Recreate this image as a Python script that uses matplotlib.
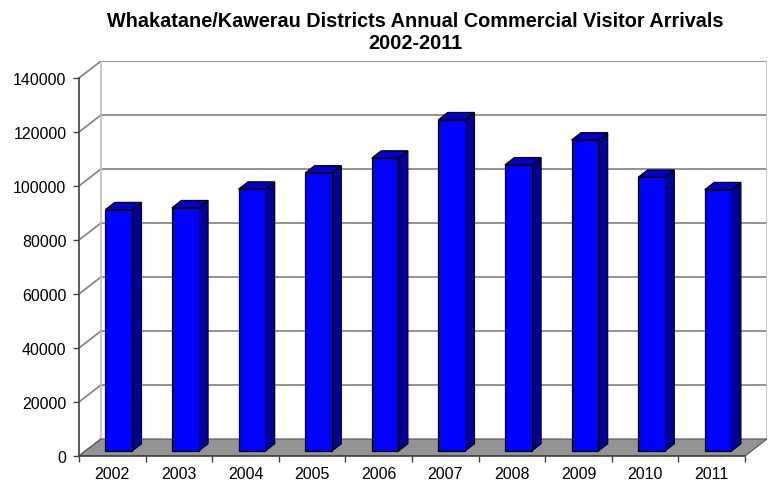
import matplotlib.pyplot as plt
from matplotlib.patches import Polygon

years = ['2002', '2003', '2004', '2005', '2006', '2007', '2008', '2009', '2010', '2011']
arrivals = [89400, 90100, 97000, 103000, 108500, 122700, 106000, 115200, 101400, 96800]
y_ticks = [0, 20000, 40000, 60000, 80000, 100000, 120000, 140000]

plt.rcParams['font.family'] = ['Liberation Sans', 'DejaVu Sans']

# fake 3d: depth z in 0..1 shifts a point right by DX categories and up by DY
DX = 0.33
DY = 6300
YMAX = 140000
N = len(years)


def proj(x, y, z):
    return (x + z * DX, y + z * DY)


fig = plt.figure(figsize=(7.74, 4.81), dpi=100)
ax = fig.add_axes([79 / 774, 24 / 481, 688 / 774, 395 / 481])
ax.set_xlim(0, N + DX)
ax.set_ylim(0, YMAX + DY)

grid_col = '#808080'
edge_col = '#c0c0c0'

# side wall and back wall gridlines
for t in y_ticks:
    (x0, y0), (x1, y1) = proj(0, t, 0), proj(0, t, 1)
    ax.plot([x0, x1], [y0, y1], color=grid_col, lw=1.2, zorder=1)
    if t > 0:
        ax.plot([x1, N + DX], [y1, y1], color=grid_col, lw=1.2, zorder=1)
ax.plot([DX, DX], [DY, YMAX + DY], color=edge_col, lw=1.2, zorder=1)
ax.plot([N + DX, N + DX], [DY, YMAX + DY], color=edge_col, lw=1.2, zorder=1)

# floor
floor = [proj(0, 0, 0), proj(N, 0, 0), proj(N, 0, 1), proj(0, 0, 1)]
ax.add_patch(Polygon(floor, closed=True, facecolor='#939393',
                     edgecolor='#555555', lw=0.8, zorder=2))

# bars
w = 0.4
z0, z1 = 0.29, 0.72
for i, v in enumerate(arrivals):
    xl = i + 0.3
    xr = xl + w
    front = [proj(xl, 0, z0), proj(xr, 0, z0), proj(xr, v, z0), proj(xl, v, z0)]
    top = [proj(xl, v, z0), proj(xr, v, z0), proj(xr, v, z1), proj(xl, v, z1)]
    side = [proj(xr, 0, z0), proj(xr, 0, z1), proj(xr, v, z1), proj(xr, v, z0)]
    ax.add_patch(Polygon(side, closed=True, facecolor='#000099',
                         edgecolor='black', lw=0.9, zorder=3))
    ax.add_patch(Polygon(top, closed=True, facecolor='#0000cc',
                         edgecolor='black', lw=0.9, zorder=3))
    ax.add_patch(Polygon(front, closed=True, facecolor='#0000ff',
                         edgecolor='black', lw=0.9, zorder=4))

for s in ['top', 'right']:
    ax.spines[s].set_visible(False)
ax.spines['left'].set_bounds(0, YMAX)
ax.spines['bottom'].set_bounds(0, N)
for s in ['left', 'bottom']:
    ax.spines[s].set_color('#404040')
    ax.spines[s].set_linewidth(1.2)
    ax.spines[s].set_zorder(5)

ax.set_yticks(y_ticks)
ax.set_yticklabels([str(t) for t in y_ticks])
ax.set_xticks(range(N + 1))
ax.set_xticklabels([])
ax.set_xticks([i + 0.5 for i in range(N)], minor=True)
ax.set_xticklabels(years, minor=True)
ax.tick_params(axis='y', length=4, width=1, color='#404040', labelsize=11.5, pad=5)
ax.tick_params(axis='x', which='major', length=4, width=1, color='#404040')
ax.tick_params(axis='x', which='minor', length=0, labelsize=11.5, pad=7)

fig.text(415 / 774, 1 - 12 / 481,
         'Whakatane/Kawerau Districts Annual Commercial Visitor Arrivals\n2002-2011',
         ha='center', va='top', fontsize=14.3, fontweight='bold', linespacing=1.2)

fig.savefig('out.png', dpi=100)
